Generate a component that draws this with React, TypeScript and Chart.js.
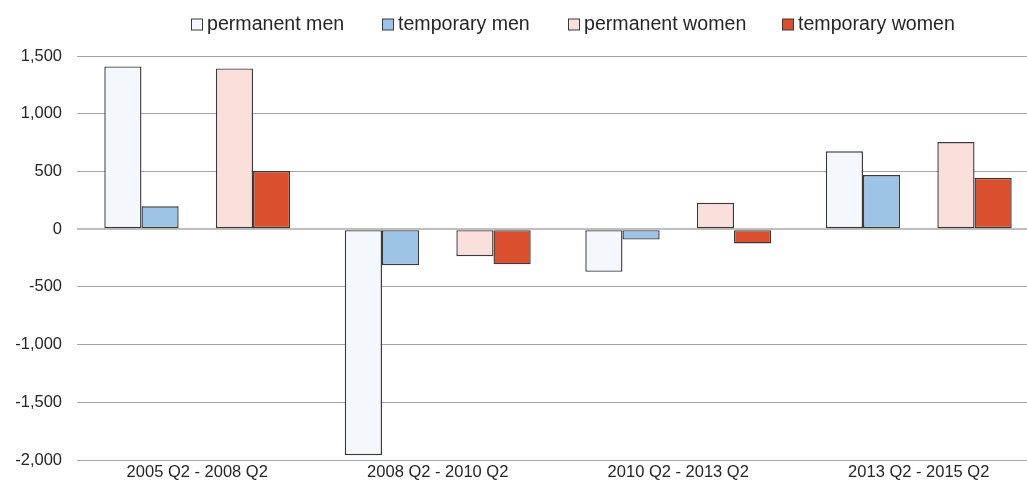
import React, { useEffect, useRef } from "react";
import { Chart, registerables } from "chart.js";

Chart.register(...registerables);

const categories = ["2005 Q2 - 2008 Q2", "2008 Q2 - 2010 Q2", "2010 Q2 - 2013 Q2", "2013 Q2 - 2015 Q2"];
const permanentMen = [1410, -1958, -370, 674];
const temporaryMen = [198, -312, -90, 468];
const permanentWomen = [1392, -235, 228, 755];
const temporaryWomen = [503, -305, -124, 445];
const gapSeries = [null, null, null, null];
const yTicks = [-2000, -1500, -1000, -500, 0, 500, 1000, 1500];

const seriesNames = ["permanent men", "temporary men", "permanent women", "temporary women"];
const seriesColors = ["#F4F8FC", "#9DC3E6", "#FADFDB", "#DA4F2E"];
const borderColor = "#3A3A3A";
const FONT = "'Liberation Sans', Arial, sans-serif";
const legendStarts = [191, 382, 568, 782];

const legendPlugin = {
  id: "customLegend",
  afterDraw(chart: any) {
    const ctx = chart.ctx;
    ctx.save();
    ctx.font = `19.6px ${FONT}`;
    ctx.textBaseline = "middle";
    ctx.textAlign = "left";
    const yc = 24;
    const box = 11;
    seriesNames.forEach((name, i) => {
      const x = legendStarts[i];
      ctx.fillStyle = seriesColors[i];
      ctx.fillRect(x + 0.5, yc - box / 2 + 0.5, box, box);
      ctx.strokeStyle = borderColor;
      ctx.lineWidth = 1;
      ctx.strokeRect(x + 0.5, yc - box / 2 + 0.5, box, box);
      ctx.fillStyle = "#262626";
      ctx.fillText(name, x + box + 5, yc + 1);
    });
    ctx.restore();
  },
};

export default function App() {
  const ref = useRef<HTMLCanvasElement | null>(null);
  useEffect(() => {
    if (!ref.current) return;
    const mk = (label: string, data: any[], i: number) => ({
      label,
      data,
      backgroundColor: seriesColors[i],
      borderColor,
      borderWidth: 1.4,
      borderSkipped: false,
    });
    const chart = new Chart(ref.current, {
      type: "bar",
      data: {
        labels: categories,
        datasets: [
          mk(seriesNames[0], permanentMen, 0),
          mk(seriesNames[1], temporaryMen, 1),
          { label: "", data: gapSeries, backgroundColor: "transparent", borderWidth: 0 },
          mk(seriesNames[2], permanentWomen, 2),
          mk(seriesNames[3], temporaryWomen, 3),
        ] as any,
      },
      options: {
        animation: false,
        responsive: true,
        maintainAspectRatio: false,
        layout: { padding: { top: 56, right: 1, bottom: 0, left: 0 } },
        datasets: { bar: { categoryPercentage: 0.773, barPercentage: 1 } },
        plugins: { legend: { display: false }, tooltip: { enabled: false } },
        scales: {
          x: {
            afterFit: (s: any) => {
              s.height = 27;
            },
            grid: { display: false, drawTicks: false },
            border: { display: false },
            ticks: { color: "#262626", font: { family: FONT, size: 16.5 }, padding: 3, maxRotation: 0 },
          },
          y: {
            min: -2000,
            max: 1500,
            afterBuildTicks: (s: any) => {
              s.ticks = yTicks.map((v) => ({ value: v }));
            },
            afterFit: (s: any) => {
              s.width = 77;
            },
            grid: {
              drawTicks: false,
              color: (c: any) => (c.tick && c.tick.value === 0 ? "#BFBFBF" : "#A6A6A6"),
              lineWidth: (c: any) => (c.tick && c.tick.value === 0 ? 2 : 1),
            },
            border: { display: false },
            ticks: {
              color: "#262626",
              font: { family: FONT, size: 16.5 },
              padding: 15,
              callback: (v: any) => Number(v).toLocaleString("en-US"),
            },
          },
        },
      },
      plugins: [legendPlugin],
    });
    return () => chart.destroy();
  }, []);
  return (
    <div style={{ position: "fixed", left: 0, top: 0, width: 1027, height: 487, overflow: "hidden", background: "#fff" }}>
      <div style={{ position: "relative", width: 1040, height: 487 }}>
        <canvas ref={ref} />
      </div>
    </div>
  );
}
